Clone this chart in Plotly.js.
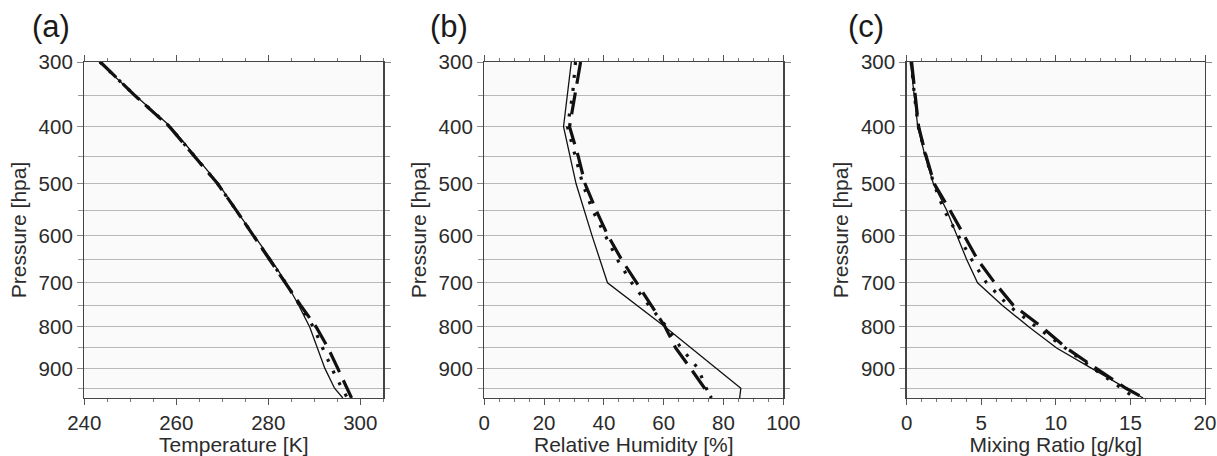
<!DOCTYPE html>
<html>
<head>
<meta charset="utf-8">
<script src="https://cdn.plot.ly/plotly-3.0.1.min.js"></script>
<style>html,body{margin:0;padding:0;background:#fff}#chart{width:1217px;height:456px}</style>
</head>
<body>
<div id="chart"></div>
<script>
// Pressure levels [hPa]
const pressure = [300, 350, 400, 450, 500, 550, 600, 650, 700, 750, 800, 850, 900, 950, 975];
const pressureTicks = [300, 400, 500, 600, 700, 800, 900];
const pressureMinorTicks = [350, 450, 550, 650, 750, 850, 950];

// (a) Temperature [K]
const tempSolid  = [243.2, 251.1, 258.8, 264.1, 269.2, 273.0, 276.8, 280.6, 283.9, 286.6, 289.0, 290.6, 292.3, 294.4, 296.2];
const tempDashed = [243.5, 251.0, 258.5, 264.0, 269.0, 273.0, 276.7, 280.4, 283.8, 287.0, 290.4, 293.0, 295.1, 297.0, 298.1];
const tempDotted = [243.4, 251.0, 258.6, 264.0, 269.0, 273.0, 276.7, 280.4, 283.8, 286.8, 289.8, 291.8, 293.8, 296.0, 297.2];

// (b) Relative Humidity [%]
const pressureRhSolid = [300, 350, 400, 500, 600, 700, 800, 950, 975];
const rhSolid  = [29.1, 27.7, 26.5, 30.7, 36.0, 41.2, 60.5, 85.8, 85.4];
const rhDashed = [32.2, 30.3, 28.5, 31.4, 33.7, 37.4, 41.3, 45.9, 50.8, 55.8, 60.5, 64.0, 69.0, 73.5, 76.0];
const rhDotted = [30.5, 29.5, 27.8, 30.5, 32.9, 36.2, 40.5, 44.5, 49.3, 55.0, 61.0, 65.8, 71.5, 74.4, 75.6];

// (c) Mixing Ratio [g/kg]
const mrSolid  = [0.25, 0.49, 0.74, 1.23, 1.79, 2.68, 3.35, 4.02, 4.75, 6.40, 8.20, 10.05, 12.40, 14.70, 15.85];
const mrDashed = [0.33, 0.55, 0.80, 1.30, 1.85, 2.90, 3.85, 4.75, 5.90, 7.15, 9.05, 10.70, 12.70, 14.70, 15.90];
const mrDotted = [0.30, 0.52, 0.78, 1.27, 1.82, 2.50, 3.45, 4.35, 5.35, 6.80, 8.70, 10.60, 12.50, 14.40, 15.30];

// The pressure axis of the reference is spaced by the square root of pressure.
const sq = p => Math.sqrt(p);
const pBottom = 975, pTop = 300;

const W = 1217, H = 456;
const ink = '#2b2b2b';
const lineColor = '#111111';
const solidStyle  = {color: lineColor, width: 1.3};
const dashedStyle = {color: lineColor, width: 3.2, dash: '22px,9px'};
const dottedStyle = {color: lineColor, width: 3.2, dash: '3px,10px'};

function tr(x, p, style, xa, ya, name) {
  return {x: x, y: p.map(sq), type: 'scatter', mode: 'lines', line: style,
          xaxis: xa, yaxis: ya, name: name, showlegend: false, hoverinfo: 'skip'};
}

const data = [
  tr(tempSolid, pressure, solidStyle, 'x', 'y', 'solid'),
  tr(tempDotted, pressure, dottedStyle, 'x', 'y', 'dotted'),
  tr(tempDashed, pressure, dashedStyle, 'x', 'y', 'dashed'),
  tr(rhSolid, pressureRhSolid, solidStyle, 'x2', 'y2', 'solid'),
  tr(rhDotted, pressure, dottedStyle, 'x2', 'y2', 'dotted'),
  tr(rhDashed, pressure, dashedStyle, 'x2', 'y2', 'dashed'),
  tr(mrSolid, pressure, solidStyle, 'x3', 'y3', 'solid'),
  tr(mrDotted, pressure, dottedStyle, 'x3', 'y3', 'dotted'),
  tr(mrDashed, pressure, dashedStyle, 'x3', 'y3', 'dashed')
];

const tickFont = {family: 'Liberation Sans, Arial, sans-serif', size: 20.5, color: ink};
const titleFont = {family: 'Liberation Sans, Arial, sans-serif', size: 21, color: ink};

const yDomain = [1 - 398 / H, 1 - 62 / H];
function xAxis(domain, range, dtick, minorDtick, title) {
  return {
    domain: domain, range: range, dtick: dtick, tick0: 0,
    showgrid: false, zeroline: false,
    showline: true, linecolor: '#444', linewidth: 1.4, mirror: 'ticks',
    ticks: 'outside', ticklen: 6, tickwidth: 1, tickcolor: '#555',
    minor: {dtick: minorDtick, ticks: 'outside', ticklen: 3, tickcolor: '#777', showgrid: false},
    tickfont: tickFont,
    title: {text: title, font: titleFont, standoff: 8},
    fixedrange: true
  };
}
function yAxis(anchor) {
  return {
    domain: yDomain, anchor: anchor,
    range: [sq(pBottom), sq(pTop)],
    tickmode: 'array', tickvals: pressureTicks.map(sq), ticktext: pressureTicks.map(String),
    showgrid: true, gridcolor: '#b8b8b8', gridwidth: 1,
    zeroline: false, showline: true, linecolor: '#444', linewidth: 1.4, mirror: 'ticks',
    ticks: 'outside', ticklen: 6, tickwidth: 1, tickcolor: '#888',
    minor: {tickmode: 'array', tickvals: pressureMinorTicks.map(sq), ticks: 'outside', ticklen: 5,
            tickcolor: '#999', showgrid: true, gridcolor: '#b8b8b8', gridwidth: 1},
    tickfont: tickFont,
    title: {text: 'Pressure [hpa]', font: titleFont, standoff: 6},
    fixedrange: true
  };
}

const layout = {
  width: W, height: H,
  margin: {l: 0, r: 0, t: 0, b: 0, autoexpand: false},
  paper_bgcolor: '#ffffff', plot_bgcolor: '#fafafa',
  showlegend: false,
  xaxis:  Object.assign(xAxis([84.3 / W, 383.3 / W], [240, 305], 20, 5, 'Temperature [K]'), {anchor: 'y'}),
  xaxis2: Object.assign(xAxis([484.3 / W, 783.3 / W], [0, 100], 20, 5, 'Relative Humidity [%]'), {anchor: 'y2'}),
  xaxis3: Object.assign(xAxis([906.7 / W, 1205 / W], [0, 20], 5, 1, 'Mixing Ratio [g/kg]'), {anchor: 'y3'}),
  yaxis: yAxis('x'), yaxis2: yAxis('x2'), yaxis3: yAxis('x3'),
  annotations: [
    {text: '(a)', x: 30 / W, y: 1 - 26.5 / H},
    {text: '(b)', x: 428 / W, y: 1 - 26.5 / H},
    {text: '(c)', x: 846 / W, y: 1 - 26.5 / H}
  ].map(a => Object.assign(a, {xref: 'paper', yref: 'paper', xanchor: 'left', yanchor: 'middle',
        showarrow: false, font: {family: 'Liberation Sans, Arial, sans-serif', size: 31, color: '#1a1a1a'}}))
};

Plotly.newPlot('chart', data, layout, {staticPlot: true, displayModeBar: false});
</script>
</body>
</html>
